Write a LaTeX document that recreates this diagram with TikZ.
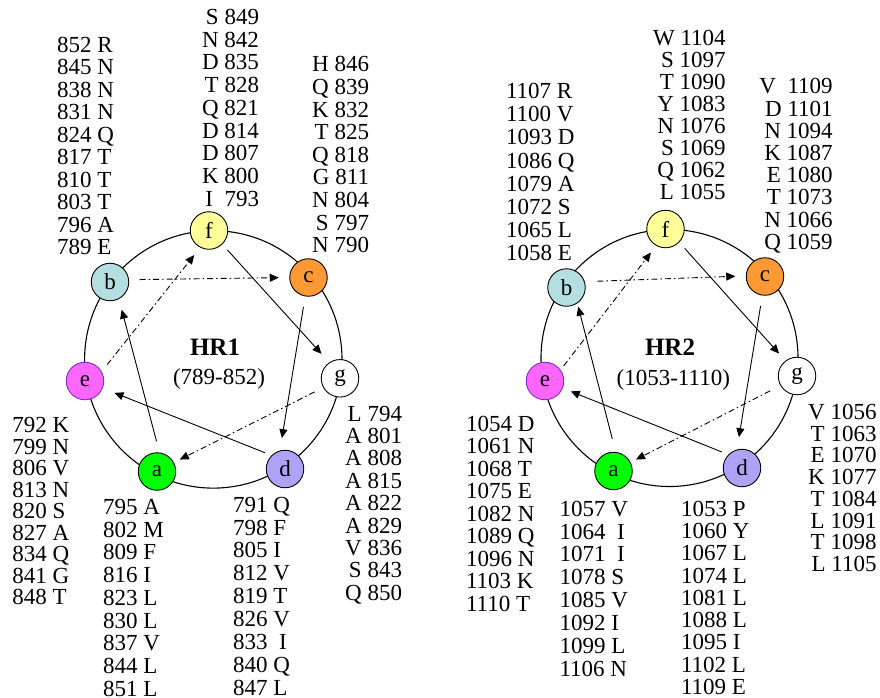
\documentclass[tikz,border=0pt]{standalone}
\usepackage{fontspec}
\setmainfont{Liberation Serif}
\usetikzlibrary{arrows.meta}
\definecolor{colA}{HTML}{00FF00}
\definecolor{colB}{HTML}{B4DEE0}
\definecolor{colC}{HTML}{FF9933}
\definecolor{colD}{HTML}{AEA2F6}
\definecolor{colE}{HTML}{FF66FF}
\definecolor{colEb}{HTML}{7A2BC8}
\definecolor{colF}{HTML}{FFFF99}
\newcommand\labcol[6]{%
  \foreach \t [count=\i from 0] in {#6} {\node[lab,anchor=#2] (#1-\i) at (#3,{#4+#5*\i}) {\t};}}
\begin{document}
\begin{tikzpicture}[x=1pt,y=-1pt,
  res/.style={circle,draw=black,line width=0.9pt,minimum size=37.5pt,inner sep=0pt,outer sep=0pt,font=\fontsize{23}{23}\selectfont},
  wheel/.style={circle,draw=black,line width=1.1pt,inner sep=0pt,outer sep=0pt},
  lab/.style={inner sep=0pt,outer sep=0pt,font=\fontsize{23}{23}\selectfont},
  ttl/.style={inner sep=0pt,outer sep=0pt,anchor=base,font=\fontsize{25}{25}\selectfont\bfseries},
  rng/.style={inner sep=0pt,outer sep=0pt,anchor=base,font=\fontsize{23}{23}\selectfont},
  solidarr/.style={line width=0.9pt,-{Triangle[length=9pt,width=8pt]}},
  dasharr/.style={solidarr,dash pattern=on 6pt off 3pt on 1.5pt off 3pt},
  sh/.style 2 args={shorten <=#1pt,shorten >=#2pt},
]
\fill[white] (0,0) rectangle (880,697);
\useasboundingbox (0,0) rectangle (880,697);

% ---------------- HR1 ----------------
\node[wheel,minimum size=257.4pt] (w1) at (213.3,359.4) {};
\node[res,fill=colA] (a1) at (157,471.5) {a};
\node[res,fill=colB] (b1) at (110,282) {b};
\node[res,fill=colC] (c1) at (308.5,277.5) {c};
\node[res,fill=colD] (d1) at (285,469) {d};
\node[res,fill=colE,draw=colEb] (e1) at (85,381) {e};
\node[res,fill=colF] (f1) at (209,230.5) {f};
\node[res,fill=white] (g1) at (340,378.3) {g};

\node[ttl] (t1) at (215,355.3) {HR1};
\node[rng] (r1) at (219,384.5) {(789-852)};

\draw[solidarr,sh={12}{11.5}] (a1.82.5) -- (b1.-62);
\draw[dasharr,sh={11}{11}] (b1.7.6) -- (c1.180);
\draw[solidarr,sh={11}{13}] (c1.-100) -- (d1.106);
\draw[solidarr,sh={7.5}{13}] (d1.134) -- (e1.-22);
\draw[dasharr,sh={9.5}{10}] (e1.29) -- (f1.-117.5);
\draw[solidarr,sh={8}{12}] (f1.-46) -- (g1.124);
\draw[dasharr,sh={10}{7}] (g1.-151) -- (a1.28);

\labcol{lb1}{base west}{57}{52.1}{22.5}{852 R,845 N,838 N,831 N,824 Q,817 T,810 T,803 T,796 A,789 E}
\labcol{lf1}{base east}{259}{24.5}{22.7}{S 849,N 842,D 835,T 828,Q 821,D 814,D 807,K 800,I~~793}
\labcol{lc1}{base east}{369}{71.8}{22.6}{H 846,Q 839,K 832,T 825,Q 818,G 811,N 804,S 797,N 790}
\labcol{le1}{base west}{12.5}{432.8}{21.5}{792 K,799 N,806 V,813 N,820 S,827 A,834 Q,841 G,848 T}
\labcol{la1}{base west}{103}{514.5}{22.7}{795 A,802 M,809 F,816 I,823 L,830 L,837 V,844 L,851 L}
\labcol{ld1}{base west}{233}{512.1}{22.9}{791 Q,798 F,805 I,812 V,819 T,826 V,833~~I,840 Q,847 L}
\labcol{lg1}{base east}{402}{421.1}{22.4}{L 794,A 801,A 808,A 815,A 822,A 829,V 836,S 843,Q 850}

% ---------------- HR2 ----------------
\node[wheel,minimum size=257pt] (w2) at (669.5,358) {};
\node[res,fill=colA] (a2) at (613.5,471) {a};
\node[res,fill=colB] (b2) at (566.5,287.5) {b};
\node[res,fill=colC] (c2) at (765,276.5) {c};
\node[res,fill=colD] (d2) at (742,468) {d};
\node[res,fill=colE,draw=colEb] (e2) at (545,381) {e};
\node[res,fill=colF] (f2) at (665.5,229) {f};
\node[res,fill=white] (g2) at (797,376) {g};

\node[ttl] (t2) at (670,355.3) {HR2};
\node[rng] (r2) at (673.3,385.8) {(1053-1110)};

\draw[solidarr,sh={14}{4}] (a2.83.4) -- (b2.-55);
\draw[dasharr,sh={13}{11}] (b2.18.7) -- (c2.178.5);
\draw[solidarr,sh={11}{13}] (c2.-98) -- (d2.106);
\draw[solidarr,sh={7.5}{9}] (d2.135) -- (e2.-22.6);
\draw[dasharr,sh={5.5}{9}] (e2.35.6) -- (f2.-119.6);
\draw[solidarr,sh={8.5}{10}] (f2.-44.7) -- (g2.127);
\draw[dasharr,sh={12}{6.5}] (g2.-150) -- (a2.27.5);

\labcol{lb2}{base west}{506}{98.5}{23.2}{1107 R,1100 V,1093 D,1086 Q,1079 A,1072 S,1065 L,1058 E}
\labcol{lf2}{base east}{725.7}{45.5}{22}{W 1104,S 1097,T 1090,Y 1083,N 1076,S 1069,Q 1062,L 1055}
\labcol{lc2}{base east}{832.7}{93.8}{22.2}{V~~1109,D 1101,N 1094,K 1087,E 1080,T 1073,N 1066,Q 1059}
\labcol{le2}{base west}{466}{431.1}{22.5}{1054 D,1061 N,1068 T,1075 E,1082 N,1089 Q,1096 N,1103 K,1110 T}
\labcol{la2}{base west}{559.5}{516.1}{22.9}{1057 V,1064~~I,1071~~I,1078 S,1085 V,1092 I,1099 L,1106 N}
\labcol{ld2}{base west}{681}{516.1}{22.3}{1053 P,1060 Y,1067 L,1074 L,1081 L,1088 L,1095 I,1102 L,1109 E}
\labcol{lg2}{base east}{876.5}{419.5}{21.7}{V 1056,T 1063,E 1070,K 1077,T 1084,L 1091,T 1098,L 1105}
\end{tikzpicture}
\end{document}
